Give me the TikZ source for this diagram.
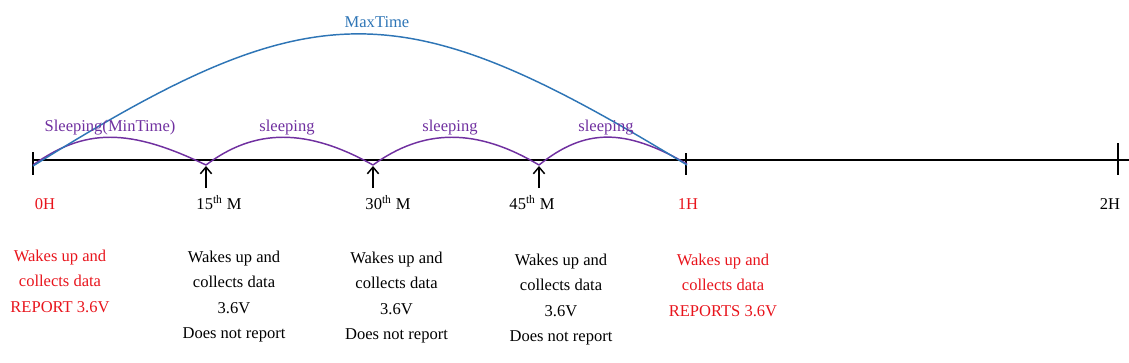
\documentclass[tikz,border=0pt]{standalone}
\usepackage{fontspec}
\setmainfont{Liberation Serif}
\usetikzlibrary{arrows.meta}
\definecolor{sleepc}{HTML}{7030A0}
\definecolor{maxc}{HTML}{2E75B6}
\definecolor{repc}{HTML}{E8141C}
\begin{document}
\begin{tikzpicture}[x=0.75pt,y=-0.75pt,
  lbl/.style={font=\fontsize{12.4}{19.1}\selectfont, inner sep=0pt},
  timelbl/.style={lbl, anchor=base},
  blocklbl/.style={lbl, align=center, anchor=north},
  sleeplbl/.style={lbl, anchor=base, text=sleepc},
  axisline/.style={line width=0.9pt, black},
  tickline/.style={line width=0.8pt, black},
  sleeparc/.style={line width=1.1pt, sleepc},
  maxarc/.style={line width=1.1pt, maxc},
  wakearrow/.style={line width=1.1pt, -{Straight Barb[length=5pt,width=8.5pt,line width=1.1pt]}}
]
\useasboundingbox (0,0) rectangle (1129,362);

% axis
\coordinate (axL) at (33,160);
\coordinate (axR) at (1129,160);
\draw[axisline] (axL) -- (axR);

% ticks
\coordinate (t0a) at (33,152);  \coordinate (t0b) at (33,175);
\coordinate (t1a) at (686,153); \coordinate (t1b) at (686,175);
\coordinate (t2a) at (1118,143);\coordinate (t2b) at (1118,175);
\draw[tickline] (t0a) -- (t0b);
\draw[tickline] (t1a) -- (t1b);
\draw[tickline] (t2a) -- (t2b);

% arc end points
\coordinate (p0) at (33,165);
\coordinate (p1) at (206,165);
\coordinate (p2) at (373,165);
\coordinate (p3) at (539,165);
\coordinate (p4) at (687,164);
\coordinate (m0) at (33,166);
\coordinate (m1) at (687,165);

% sleeping arcs
\draw[sleeparc] (p0) .. controls (85,128) and (129,128) .. (p1);
\draw[sleeparc] (p1) .. controls (255,128) and (307,128) .. (p2);
\draw[sleeparc] (p2) .. controls (424,128) and (477,128) .. (p3);
\draw[sleeparc] (p3) .. controls (585,128) and (625,128) .. (p4);

% max time arc
\draw[maxarc] (m0) .. controls (315,-10) and (400,-10) .. (m1);

% wake-up arrows
\coordinate (a15b) at (206,188); \coordinate (a15t) at (206,166);
\coordinate (a30b) at (373,188); \coordinate (a30t) at (373,166);
\coordinate (a45b) at (539,188); \coordinate (a45t) at (539,166);
\draw[wakearrow] (a15b) -- (a15t);
\draw[wakearrow] (a30b) -- (a30t);
\draw[wakearrow] (a45b) -- (a45t);

% top labels
\node[lbl, anchor=base, text=maxc] (maxt) at (377,27) {MaxTime};
\node[sleeplbl] (s1) at (110,131) {Sleeping(MinTime)};
\node[sleeplbl] (s2) at (287,131) {sleeping};
\node[sleeplbl] (s3) at (450,131) {sleeping};
\node[sleeplbl] (s4) at (606,131) {sleeping};

% time labels
\node[timelbl, text=repc] (h0) at (45,209) {0H};
\node[timelbl] (m15) at (219,209) {15\textsuperscript{th} M};
\node[timelbl] (m30) at (388,209) {30\textsuperscript{th} M};
\node[timelbl] (m45) at (532,209) {45\textsuperscript{th} M};
\node[timelbl, text=repc] (h1) at (688,209) {1H};
\node[timelbl] (h2) at (1110,209) {2H};

% description blocks
\node[blocklbl, text=repc] (b1) at (60,249.7) {Wakes up and\\collects data\\REPORT 3.6V};
\node[blocklbl] (b2) at (234,250.5) {Wakes up and\\collects data\\3.6V\\Does not report};
\node[blocklbl] (b3) at (396.5,251.7) {Wakes up and\\collects data\\3.6V\\Does not report};
\node[blocklbl] (b4) at (561,253.7) {Wakes up and\\collects data\\3.6V\\Does not report};
\node[blocklbl, text=repc] (b5) at (723,253.7) {Wakes up and\\collects data\\REPORTS 3.6V};
\end{tikzpicture}
\end{document}
